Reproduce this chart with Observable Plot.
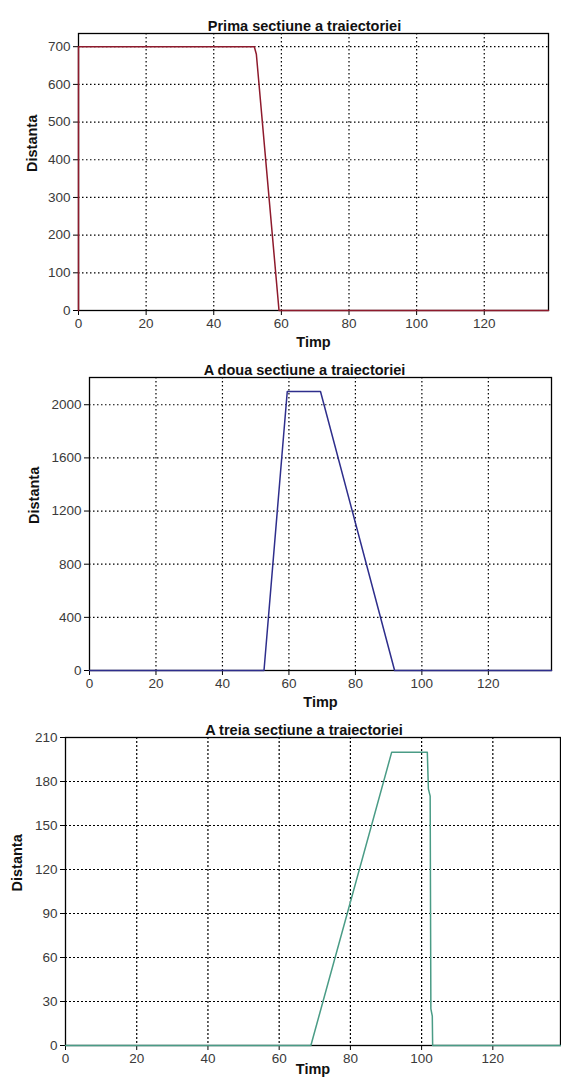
<!DOCTYPE html>
<html>
<head>
<meta charset="utf-8">
<script src="https://cdn.jsdelivr.net/npm/d3@7"></script>
<script src="https://cdn.jsdelivr.net/npm/@observablehq/plot@0.6"></script>
<style>
  body { margin: 0; background: #fff; }
  #chart { width: 561px; height: 1079px; overflow: hidden; }
  #chart svg { display: block; }
</style>
</head>
<body>
<div id="chart"></div>
<script>
// ---- Data ----
const xTicks = [0, 20, 40, 60, 80, 100, 120];
const xMax = 139;

// Panel 1: Prima sectiune a traiectoriei
const title1 = "Prima sectiune a traiectoriei";
const timp1 = [0, 0, 52, 52.6, 59.3, 139];
const dist1 = [0, 700, 700, 680, 0, 0];
const yTicks1 = [0, 100, 200, 300, 400, 500, 600, 700];
const yMax1 = 735;

// Panel 2: A doua sectiune a traiectoriei
const title2 = "A doua sectiune a traiectoriei";
const timp2 = [0, 52.5, 59.5, 69.5, 91.8, 139];
const dist2 = [0, 0, 2100, 2100, 0, 0];
const yTicks2 = [0, 400, 800, 1200, 1600, 2000];
const yMax2 = 2205;

// Panel 3: A treia sectiune a traiectoriei
const title3 = "A treia sectiune a traiectoriei";
const timp3 = [0, 68.9, 91.6, 101.6, 101.9, 102.4, 102.6, 103.0, 103.1, 139];
const dist3 = [0, 0, 200, 200, 175, 170, 25, 20, 0, 0];
const yTicks3 = [0, 30, 60, 90, 120, 150, 180, 210];
const yMax3 = 210;

const xLabel = "Timp";
const yLabel = "Distanta";

function panel(o) {
  const data = o.t.map((t, i) => ({t, d: o.d[i]}));
  const gridDash = o.dash;
  const tickFont = 13.5;
  const labelFont = 14.5;
  return Plot.plot({
    width: 561,
    height: o.height,
    marginTop: o.mt, marginBottom: o.mb, marginLeft: o.ml, marginRight: o.mr,
    style: {fontFamily: "'Liberation Sans', Arial, sans-serif", fontSize: "12px", background: "white", overflow: "visible"},
    x: {domain: [0, xMax]},
    y: {domain: [0, o.yMax]},
    marks: [
      Plot.gridX(xTicks.filter(v => v > 0), {stroke: "black", strokeOpacity: 1, strokeWidth: 1.2, strokeDasharray: gridDash}),
      Plot.gridY(o.yTicks.filter(v => v > 0 && v < o.yMax), {stroke: "black", strokeOpacity: 1, strokeWidth: 1.2, strokeDasharray: gridDash}),
      Plot.frame({stroke: "black", strokeWidth: 1.3}),
      Plot.axisX(xTicks, {tickSize: 5, tickPadding: 3, label: null, stroke: "black", fill: "#3a3a3a", fontSize: tickFont, tickFormat: d3.format("d")}),
      Plot.axisY(o.yTicks, {tickSize: 5, tickPadding: 3, label: null, stroke: "black", fill: "#3a3a3a", fontSize: tickFont, tickFormat: d3.format("d")}),
      Plot.line(data, {x: "t", y: "d", stroke: o.color, strokeWidth: 1.5}),
      Plot.text([o.title], {text: d => d, frameAnchor: "top", dy: o.titleDy, dx: o.titleDx, fontWeight: "bold", fontSize: labelFont, fill: "#111"}),
      Plot.text([xLabel], {text: d => d, frameAnchor: "bottom", dy: o.xlabDy, fontWeight: "bold", fontSize: labelFont, fill: "#111"}),
      Plot.text([yLabel], {text: d => d, frameAnchor: "left", dx: o.ylabDx, rotate: -90, fontWeight: "bold", fontSize: labelFont, fill: "#111"})
    ]
  });
}

const chart = document.getElementById("chart");
chart.appendChild(panel({
  t: timp1, d: dist1, yTicks: yTicks1, yMax: yMax1, title: title1, color: "#8e1a2c",
  height: 360, mt: 33, mb: 50, ml: 78, mr: 13,
  titleDy: -13, titleDx: -9, xlabDy: 36, ylabDx: -46, dash: "1.5,2.5"
}));
chart.appendChild(panel({
  t: timp2, d: dist2, yTicks: yTicks2, yMax: yMax2, title: title2, color: "#2e2e8c",
  height: 358, mt: 17, mb: 48, ml: 89, mr: 10,
  titleDy: -13, titleDx: -16, xlabDy: 36, ylabDx: -55, dash: "1.5,2.5"
}));
chart.appendChild(panel({
  t: timp3, d: dist3, yTicks: yTicks3, yMax: yMax3, title: title3, color: "#4a9c86",
  height: 361, mt: 19, mb: 34, ml: 65, mr: 1,
  titleDy: -13, titleDx: -9, xlabDy: 28, ylabDx: -48, dash: "2,2"
}));
</script>
</body>
</html>
